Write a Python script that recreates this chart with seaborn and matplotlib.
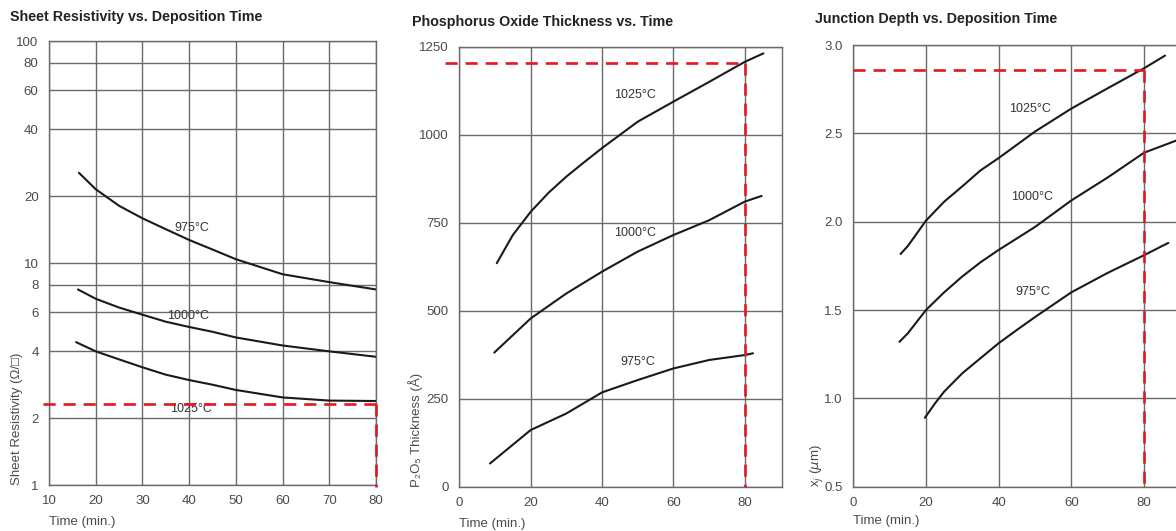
import matplotlib.pyplot as plt
import seaborn as sns
import pandas as pd

# ---- Sheet resistivity vs deposition time (ohm/sq, log scale)
res_t_975 = [16.4, 20, 25, 30, 35, 40, 45, 50, 60, 70, 80]
res_975 = [25.5, 21.5, 18.1, 15.9, 14.2, 12.7, 11.5, 10.4, 8.9, 8.2, 7.6]
res_t_1000 = [16.2, 20, 25, 30, 35, 40, 45, 50, 60, 70, 80]
res_1000 = [7.6, 6.9, 6.3, 5.85, 5.44, 5.15, 4.9, 4.62, 4.25, 4.0, 3.78]
res_t_1025 = [15.8, 20, 25, 30, 35, 40, 45, 50, 60, 70, 80]
res_1025 = [4.4, 4.0, 3.68, 3.39, 3.14, 2.97, 2.83, 2.68, 2.48, 2.4, 2.39]
res_marker = 2.32
res_yticks = [1, 2, 4, 6, 8, 10, 20, 40, 60, 80, 100]

# ---- P2O5 thickness vs time (angstrom)
ox_t_975 = [8.6, 20, 30, 40, 50, 60, 70, 80, 82.3]
ox_975 = [66, 161, 208, 268, 303, 336, 360, 374, 379]
ox_t_1000 = [9.8, 20, 30, 40, 50, 60, 70, 80, 84.7]
ox_1000 = [381, 478, 549, 611, 668, 715, 757, 810, 826]
ox_t_1025 = [10.5, 15, 20, 25, 30, 35, 40, 50, 60, 70, 80, 85.2]
ox_1025 = [635, 715, 781, 835, 881, 922, 962, 1037, 1094, 1150, 1207, 1231]
ox_marker = 1205

# ---- Junction depth vs time (um)
xj_t_975 = [19.7, 22.5, 25, 30, 35, 40, 45, 50, 60, 70, 80, 86.7]
xj_975 = [0.89, 0.972, 1.038, 1.142, 1.227, 1.312, 1.387, 1.46, 1.60, 1.71, 1.81, 1.88]
xj_t_1000 = [12.7, 15, 20, 25, 30, 35, 40, 50, 60, 70, 80, 89]
xj_1000 = [1.32, 1.368, 1.50, 1.60, 1.69, 1.77, 1.84, 1.97, 2.12, 2.25, 2.39, 2.46]
xj_t_1025 = [13.0, 15, 20, 25, 30, 35, 40, 50, 60, 70, 80, 85.8]
xj_1025 = [1.817, 1.862, 2.006, 2.113, 2.20, 2.29, 2.36, 2.51, 2.64, 2.755, 2.868, 2.94]
xj_marker = 2.86

temps = ["975°C", "1000°C", "1025°C"]

sns.set_style("white")
plt.rcParams["font.family"] = ["Liberation Sans", "DejaVu Sans"]

GRID = "#6a6a6a"
TXT = "#4a4a4a"
RED = "#e3171f"


def make_df(times, values):
    rows = []
    for t, tt, vv in zip(temps, times, values):
        for a, b in zip(tt, vv):
            rows.append({"time": a, "value": b, "temp": t})
    return pd.DataFrame(rows)


def style_axes(ax):
    ax.grid(True, color=GRID, lw=1.0)
    for s in ax.spines.values():
        s.set_color(GRID)
        s.set_linewidth(1.0)
    ax.tick_params(axis="both", direction="out", length=4, width=1,
                   color=GRID, labelcolor=TXT, labelsize=9.5)


def draw_curves(ax, df):
    sns.lineplot(data=df, x="time", y="value", hue="temp", units="temp",
                 estimator=None, sort=False, palette=["#1a1a1a"] * 3,
                 legend=False, lw=1.5, ax=ax)


def place_labels(ax, xlab, ylab, x_y, y_x):
    ax.set_xlabel(xlab, fontsize=9.5, color=TXT)
    ax.set_ylabel(ylab, fontsize=9.5, color=TXT)
    ax.xaxis.set_label_coords(0.0, x_y)
    ax.xaxis.label.set_ha("left")
    ax.yaxis.set_label_coords(y_x, 0.0)
    ax.yaxis.label.set_va("bottom")
    ax.yaxis.label.set_ha("left")


fig = plt.figure(figsize=(11.76, 5.31), dpi=100)
dash = dict(color=RED, lw=1.9, dashes=(4.6, 3.0), clip_on=False, zorder=5)
lab = dict(fontsize=9, color="#333", ha="center", va="center")

# ---------------- panel 1
ax1 = fig.add_axes([49 / 1176, 46 / 531, 327 / 1176, 444 / 531])
draw_curves(ax1, make_df([res_t_975, res_t_1000, res_t_1025],
                         [res_975, res_1000, res_1025]))
ax1.set_yscale("log")
ax1.set_xlim(10, 80)
ax1.set_ylim(1, 100)
ax1.set_yticks(res_yticks)
ax1.set_yticklabels([str(v) for v in res_yticks])
ax1.yaxis.set_minor_locator(plt.NullLocator())
ax1.set_xticks(range(10, 81, 10))
style_axes(ax1)
ax1.plot([8.8, 80], [res_marker, res_marker], **dash)
ax1.plot([80, 80], [res_marker, 0.98], **dash)
ax1.text(40.5, 14.4, "975°C", **lab)
ax1.text(39.8, 5.75, "1000°C", **lab)
ax1.text(40.5, 2.2, "1025°C", **lab)
place_labels(ax1, "Time (min.)", "Sheet Resistivity (Ω/□)", -0.07, -0.08)

# ---------------- panel 2
ax2 = fig.add_axes([459.3 / 1176, 44.3 / 531, 323 / 1176, 440 / 531])
draw_curves(ax2, make_df([ox_t_975, ox_t_1000, ox_t_1025],
                         [ox_975, ox_1000, ox_1025]))
ax2.set_xlim(0, 90.5)
ax2.set_ylim(0, 1250)
ax2.set_xticks([0, 20, 40, 60, 80])
ax2.set_yticks([0, 250, 500, 750, 1000, 1250])
style_axes(ax2)
ax2.plot([-4, 80], [ox_marker, ox_marker], **dash)
ax2.plot([80, 80], [ox_marker, 0], **dash)
ax2.text(49.2, 1112, "1025°C", **lab)
ax2.text(49.2, 720, "1000°C", **lab)
ax2.text(49.9, 355, "975°C", **lab)
place_labels(ax2, "Time (min.)", "P₂O₅ Thickness (Å)", -0.07, -0.112)

# ---------------- panel 3
ax3 = fig.add_axes([853.3 / 1176, 44.3 / 531, 327 / 1176, 441.7 / 531])
draw_curves(ax3, make_df([xj_t_975, xj_t_1000, xj_t_1025],
                         [xj_975, xj_1000, xj_1025]))
ax3.set_xlim(0, 90)
ax3.set_ylim(0.5, 3.0)
ax3.set_xticks([0, 20, 40, 60, 80])
ax3.set_yticks([0.5, 1.0, 1.5, 2.0, 2.5, 3.0])
style_axes(ax3)
ax3.plot([0, 80], [xj_marker, xj_marker], **dash)
ax3.plot([80, 80], [xj_marker, 0.5], **dash)
ax3.text(48.6, 2.64, "1025°C", **lab)
ax3.text(49.1, 2.14, "1000°C", **lab)
ax3.text(49.5, 1.60, "975°C", **lab)
place_labels(ax3, "Time (min.)", r"x$_j$ ($\mu$m)", -0.065, -0.087)

# panel titles
title = dict(fontsize=10.3, fontweight="bold", color="#222", va="center")
fig.text(10 / 1176, 1 - 17 / 531, "Sheet Resistivity vs. Deposition Time", **title)
fig.text(412 / 1176, 1 - 22 / 531, "Phosphorus Oxide Thickness vs. Time", **title)
fig.text(815 / 1176, 1 - 19 / 531, "Junction Depth vs. Deposition Time", **title)

plt.savefig("out.png", dpi=100)
plt.close()
